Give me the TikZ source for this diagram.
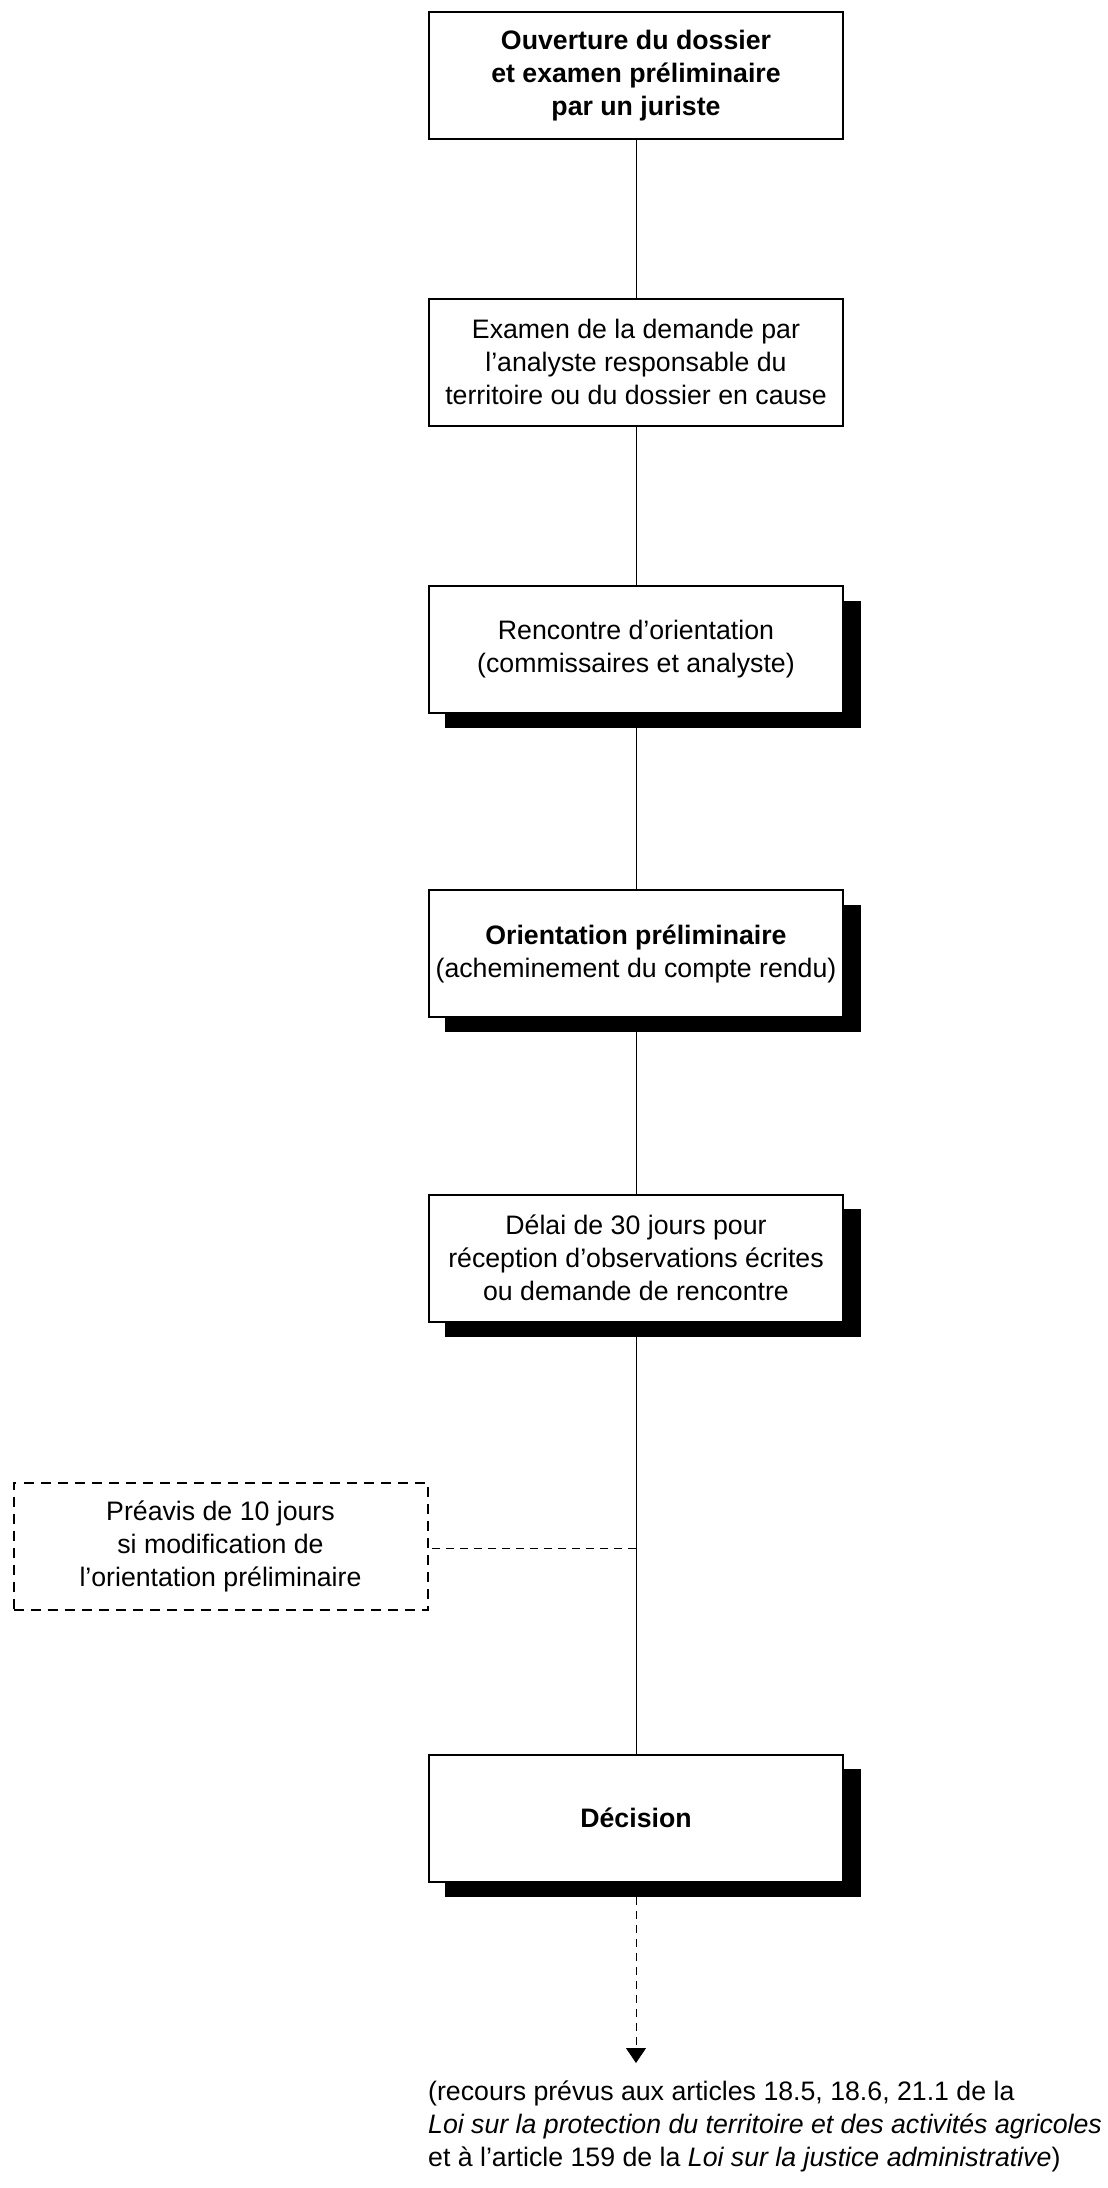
\documentclass[tikz,border=0pt]{standalone}
\usepackage{fontspec}
\setmainfont{Liberation Sans}
\usetikzlibrary{shadows,arrows.meta}
\begin{document}
\begin{tikzpicture}[x=1pt,y=-1pt,
  every node/.style={font=\fontsize{26.7}{33}\selectfont},
  stepbox/.style={draw,line width=2pt,fill=white,minimum width=414pt,minimum height=127pt,inner sep=0pt,align=center},
  shadowbox/.style={stepbox,drop shadow={shadow xshift=17pt,shadow yshift=-15pt,shadow scale=1.005,opacity=1,fill=black}},
  notebox/.style={stepbox,dash pattern=on 10pt off 7pt},
  link/.style={line width=1pt},
  dlink/.style={line width=1pt,dash pattern=on 8pt off 6pt}]
\useasboundingbox (0,0) rectangle (1108,2188);
\node[stepbox] (b1) at (636,75.5) {\textbf{Ouverture du dossier}\\\textbf{et examen préliminaire}\\\textbf{par un juriste}};
\node[stepbox] (b2) at (636,362) {Examen de la demande par\\l’analyste responsable du\\territoire ou du dossier en cause};
\node[shadowbox] (b3) at (636,649.5) {Rencontre d’orientation\\(commissaires et analyste)};
\node[shadowbox] (b4) at (636,953.5) {\textbf{Orientation préliminaire}\\(acheminement du compte rendu)};
\node[shadowbox] (b5) at (636,1258) {Délai de 30 jours pour\\réception d’observations écrites\\ou demande de rencontre};
\node[notebox] (pre) at (220.5,1546) {Préavis de 10 jours\\si modification de\\l’orientation préliminaire};
\node[shadowbox] (dec) at (636,1818) {\textbf{Décision}};
\coordinate (j) at (636,1548);
\coordinate (tip) at (636,2063);
\node[anchor=base west,inner sep=0pt,align=left] (rec) at (428,2166) {(recours prévus aux articles 18.5, 18.6, 21.1 de la\\\textit{Loi sur la protection du territoire et des activités agricoles}\\et à l’article 159 de la \textit{Loi sur la justice administrative})};
\draw[link] (b1) -- (b2);
\draw[link] (b2) -- (b3);
\draw[link] (b3) -- (b4);
\draw[link] (b4) -- (b5);
\draw[link] (b5) -- (dec);
\draw[dlink] (j) -- (pre.east |- j);
\draw[dlink,-{Triangle[width=20pt,length=15pt]}] (dec.south) -- (tip);
\end{tikzpicture}
\end{document}
